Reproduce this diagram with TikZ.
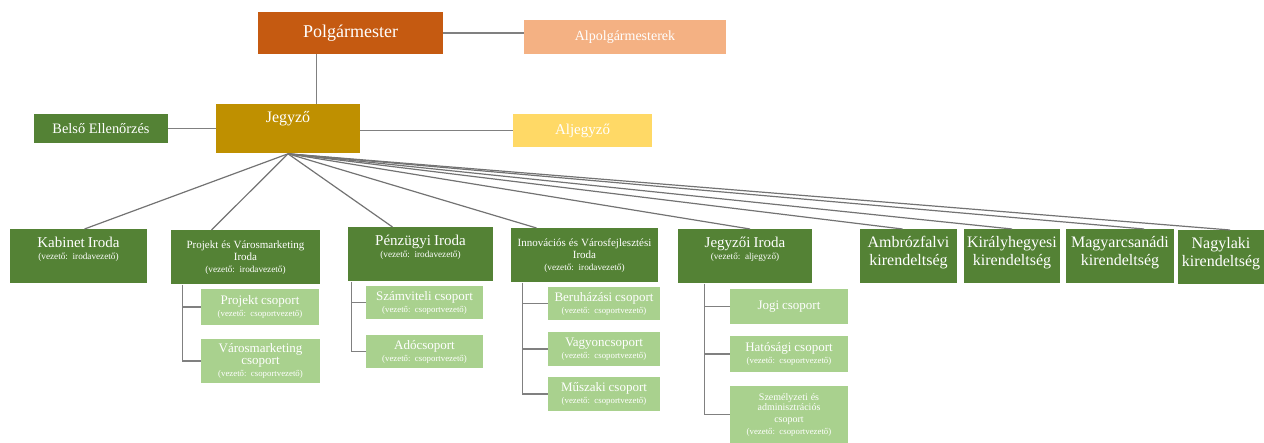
\documentclass[tikz,border=0pt]{standalone}
\usepackage{fontspec}
\setmainfont{Liberation Serif}
\usepackage{tikz}
\usetikzlibrary{positioning}
\definecolor{polgcolor}{HTML}{C55A11}
\definecolor{alpolgcolor}{HTML}{F4B183}
\definecolor{jegyzocolor}{HTML}{BF9000}
\definecolor{aljegyzocolor}{HTML}{FFD966}
\definecolor{darkgreen}{HTML}{548235}
\definecolor{lightgreen}{HTML}{A9D18E}
\tikzstyle{topbox} = [rectangle, text centered, text=white, inner sep=0pt]
\tikzstyle{office} = [rectangle, fill=darkgreen, text=white, align=center, anchor=north, inner xsep=0pt, inner ysep=3pt, text height=6pt, text depth=15pt, font=\fontsize{4.6}{6}\selectfont]
\tikzstyle{group} = [rectangle, fill=lightgreen, text=white, align=center, inner xsep=0pt, inner ysep=0pt, font=\fontsize{4.4}{6}\selectfont]
\tikzstyle{line} = [gray, line width=0.7pt]
\tikzstyle{fanline} = [black!55, line width=0.6pt]
\newcommand{\hd}[2]{{\fontsize{#1}{#1}\selectfont #2}}
\newcommand{\vez}{(vezető: irodavezető)}
\newcommand{\csv}{(vezető: csoportvezető)}

\begin{document}
\begin{tikzpicture}[x=0.5pt, y=-0.5pt]
\useasboundingbox (0,0) rectangle (1264,443);

\node (polg) [topbox, fill=polgcolor, minimum width=92.5pt, minimum height=21pt, font=\fontsize{9}{10}\selectfont] at (350.5,33) {Polgármester};
\node (alpolg) [topbox, fill=alpolgcolor, minimum width=101pt, minimum height=17pt, font=\fontsize{7}{8}\selectfont] at (625,37) {Alpolgármesterek};
\node (jegyzo) [topbox, fill=jegyzocolor, anchor=north, minimum width=72pt, inner ysep=2pt, text height=7pt, text depth=13.5pt, font=\fontsize{8}{9}\selectfont] at (288,104) {Jegyző};
\node (belso) [topbox, fill=darkgreen, minimum width=67pt, minimum height=14.5pt, font=\fontsize{7.2}{8}\selectfont] at (101,128.5) {Belső Ellenőrzés};
\node (aljegyzo) [topbox, fill=aljegyzocolor, minimum width=69.5pt, minimum height=16.5pt, font=\fontsize{7.5}{8}\selectfont] at (582.5,130.5) {Aljegyző};

  \node (kabinet) [office, text width=68.5pt] at (78.5,229) {\hd{7.5}{Kabinet Iroda}\\\vez};
  \node (projekt) [office, text width=74.5pt] at (245.5,230) {\hd{5.5}{Projekt és Városmarketing\\Iroda}\\\vez};
  \node (penzugy) [office, text width=72.5pt] at (420.5,227) {\hd{7.5}{Pénzügyi Iroda}\\\vez};
  \node (innov) [office, text width=73.5pt] at (584.5,228) {\hd{5.5}{Innovációs és Városfejlesztési\\Iroda}\\\vez};
  \node (jegyzoi) [office, text width=67pt] at (745,229) {\hd{7.5}{Jegyzői Iroda}\\(vezető: aljegyző)};
  \node (ambroz) [office, text width=48.5pt, font=\fontsize{8}{9}\selectfont] at (908.5,229) {Ambrózfalvi\\kirendeltség};
  \node (kiraly) [office, text width=48pt, font=\fontsize{8}{9}\selectfont] at (1012,229) {Királyhegyesi\\kirendeltség};
  \node (magyar) [office, text width=54pt, font=\fontsize{8}{9}\selectfont] at (1120,229) {Magyarcsanádi\\kirendeltség};
  \node (nagylak) [office, text width=43pt, font=\fontsize{8}{9}\selectfont] at (1221,230) {Nagylaki\\kirendeltség};

    \node (projcs) [group, text width=59pt, minimum height=18pt] at (260,307) {\hd{6.5}{Projekt csoport}\\\csv};
    \node (varcs) [group, text width=59.5pt, minimum height=22pt] at (260.5,361) {\hd{6.5}{Városmarketing\\csoport}\\\csv};
    \node (szamcs) [group, text width=58.5pt, minimum height=16.5pt] at (424.5,302.5) {\hd{6.5}{Számviteli csoport}\\\csv};
    \node (adocs) [group, text width=58.5pt, minimum height=16.5pt] at (424.5,351.5) {\hd{6.5}{Adócsoport}\\\csv};
    \node (beruh) [group, text width=56pt, minimum height=16.5pt] at (604,303.5) {\hd{6.5}{Beruházási csoport}\\\csv};
    \node (vagyon) [group, text width=56pt, minimum height=17pt] at (604,349) {\hd{6.5}{Vagyoncsoport}\\\csv};
    \node (muszaki) [group, text width=56pt, minimum height=17pt] at (604,394) {\hd{6.5}{Műszaki csoport}\\\csv};
    \node (jogi) [group, text width=59pt, minimum height=17.5pt] at (789,306.5) {\hd{6.5}{Jogi csoport}};
    \node (hatosag) [group, text width=59pt, minimum height=18pt] at (789,354) {\hd{6.5}{Hatósági csoport}\\\csv};
    \node (szemely) [group, text width=59pt, minimum height=28.5pt] at (789,414.5) {\hd{5}{Személyzeti és\\adminisztrációs\\csoport}\\\csv};

  \draw [line] (polg.east) -- (polg.east -| alpolg.west);
  \draw [line] ([xshift=-17pt]polg.south) -- ([xshift=-17pt]polg.south |- jegyzo.north);
  \draw [line] (belso.east) -- (belso.east -| jegyzo.west);
  \draw [line] (aljegyzo.west -| jegyzo.east) -- (aljegyzo.west);

  \draw [fanline] (jegyzo.south) -- ([xshift=3pt]kabinet.north);
  \draw [fanline] (jegyzo.south) -- ([xshift=-17pt]projekt.north);
  \draw [fanline] (jegyzo.south) -- ([xshift=-14pt]penzugy.north);
  \draw [fanline] (jegyzo.south) -- ([xshift=-24pt]innov.north);
  \draw [fanline] (jegyzo.south) -- ([xshift=2.5pt]jegyzoi.north);
  \draw [fanline] (jegyzo.south) -- ([xshift=-3pt]ambroz.north);
  \draw [fanline] (jegyzo.south) -- (kiraly.north);
  \draw [fanline] (jegyzo.south) -- ([xshift=12pt]magyar.north);
  \draw [fanline] (jegyzo.south) -- ([xshift=4.5pt]nagylak.north);

  \draw [line] ([xshift=6pt]projekt.south west) |- (projcs.west);
  \draw [line] ([xshift=6pt]projekt.south west) |- (varcs.west);

  \draw [line] ([xshift=2pt]penzugy.south west) |- (szamcs.west);
  \draw [line] ([xshift=2pt]penzugy.south west) |- (adocs.west);

  \draw [line] ([xshift=6pt]innov.south west) |- (beruh.west);
  \draw [line] ([xshift=6pt]innov.south west) |- (vagyon.west);
  \draw [line] ([xshift=6pt]innov.south west) |- (muszaki.west);

  \draw [line] ([xshift=13.5pt]jegyzoi.south west) |- (jogi.west);
  \draw [line] ([xshift=13.5pt]jegyzoi.south west) |- (hatosag.west);
  \draw [line] ([xshift=13.5pt]jegyzoi.south west) |- (szemely.west);
\end{tikzpicture}
\end{document}
